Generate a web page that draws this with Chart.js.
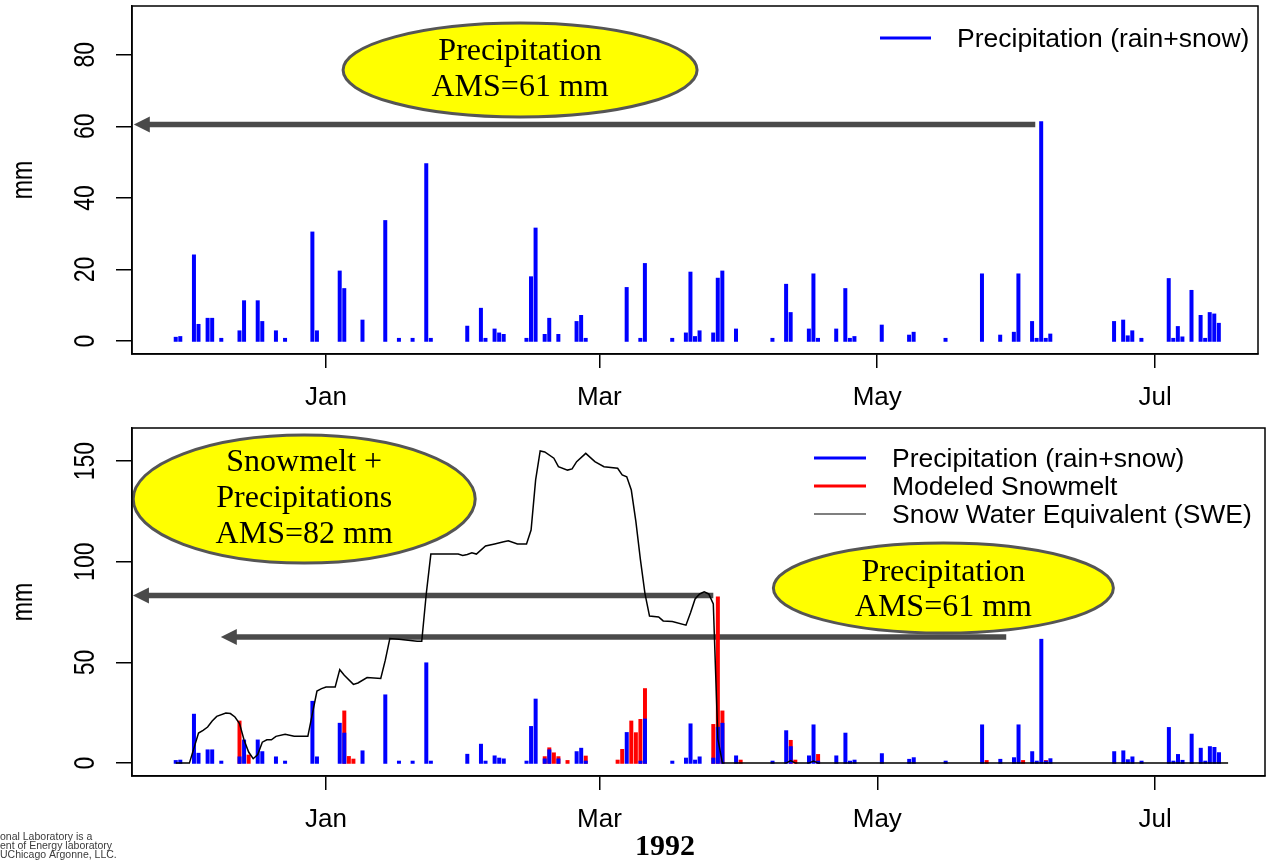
<!DOCTYPE html>
<html>
<head>
<meta charset="utf-8">
<title>Precipitation, snowmelt and SWE 1991-1992</title>
<script src="https://cdn.jsdelivr.net/npm/chart.js@4/dist/chart.umd.min.js"></script>
<style>
  html, body { margin: 0; padding: 0; background: #fff; }
  #wrap { position: relative; width: 1268px; height: 860px; overflow: hidden; }
  #topChart { position: absolute; left: 0; top: 0; }
  #bottomChart { position: absolute; left: 0; top: 420px; }
</style>
</head>
<body>
<div id="wrap">
  <canvas id="topChart" width="1268" height="420"></canvas>
  <canvas id="bottomChart" width="1268" height="440"></canvas>
</div>
<script>
// days counted from 1 Jan 1992 (negative = Nov/Dec 1991)
const precipDays = [-33, -32, -29, -28, -26, -25, -23, -19, -18, -15, -14, -11, -9, -3, -2, 3, 4, 8, 13, 16, 19, 22, 23,
  31, 34, 35, 37, 38, 39, 44, 45, 46, 48, 49, 51, 55, 56, 57, 66, 69, 70, 76, 79, 80, 81, 82, 85, 86, 87, 90,
  98, 101, 102, 106, 107, 108, 112, 114, 115, 116, 122, 128, 129, 136, 144, 148, 151, 152, 155, 156, 157, 158, 159,
  173, 175, 176, 177, 179, 185, 186, 187, 188, 190, 192, 193, 194, 195, 196];
const precipMM = [0.8, 1.0, 23.8, 4.4, 6.1, 6.1, 0.5, 2.6, 11, 11, 5.2, 2.6, 0.5, 30.2, 2.6, 19.3, 14.4, 5.6, 33.4, 0.5, 0.5, 49.3, 0.5,
  3.9, 8.9, 0.5, 3.1, 2.0, 1.6, 0.5, 17.7, 31.3, 1.6, 6.1, 1.6, 5.2, 6.9, 0.5, 14.7, 0.5, 21.4, 0.5, 2.0, 19, 1.0, 2.6, 2.0, 17.3, 19.3, 3.1,
  0.5, 15.6, 7.7, 3.1, 18.5, 0.5, 3.1, 14.4, 0.5, 1.0, 4.2, 1.4, 2.2, 0.5, 18.5, 1.4, 2.2, 18.5, 5.2, 0.5, 61, 0.5, 1.7,
  5.2, 5.6, 1.2, 2.6, 0.5, 17.2, 0.5, 3.8, 0.9, 13.9, 6.9, 0.5, 7.7, 7.3, 4.7];

const meltDays = [-19, -17, 4, 5, 6, 48, 49, 50, 51, 53, 57, 64, 65, 67, 68, 69, 70, 85, 86, 87, 91, 102, 103, 108, 145, 153, 158];
const meltMM = [20.4, 3.5, 25.4, 2.8, 1.5, 2.7, 7.1, 4.6, 2.7, 0.8, 3.0, 1.0, 6.3, 20.4, 14.6, 21.2, 36.5, 18.7, 82.0, 25.4, 1.0, 10.8, 1.0, 3.8, 0.8, 0.8, 0.8];

const sweDays = [-33, -30, -28, -27, -26, -25, -24, -22, -21, -20, -19, -18, -17, -16, -15, -14, -13, -12, -11, -9,
  -7, -4, -3, -2, -1, 0, 2, 3, 4, 6, 7, 9, 12, 13, 14, 16, 20, 21, 22, 23,
  29, 30, 31, 32, 33, 35, 37, 39, 40, 42, 44, 45, 46, 47, 48, 50, 51, 53, 54, 55,
  57, 59, 61, 64, 65, 66, 67, 68, 69, 70, 71, 73, 74, 76, 79, 80, 81, 82, 83, 84,
  85, 86, 87, 101, 102, 103, 106, 107, 108, 198];
const sweMM = [0, 0, 14.9, 16.3, 17.9, 20.9, 23.2, 24.9, 24.6, 22.9, 19.6, 11.5, 5.5, 2.2, 4.3, 10.4, 11.6, 11.6, 13.3, 14.3,
  13.3, 13.3, 24.6, 35.8, 37.0, 37.8, 37.8, 46.4, 43.6, 39.1, 39.8, 42.5, 42.0, 51.1, 61.9, 61.5, 60.5, 60.5, 84.2, 103.8,
  103.8, 103.1, 103.6, 104.4, 103.8, 107.8, 108.8, 109.9, 110.4, 108.8, 108.8, 115.7, 140.6, 155.0, 154.5, 151.4, 147.2, 145.5, 146.1, 149.7,
  153.8, 149.7, 147.2, 146.4, 143.1, 142.2, 135.6, 120.0, 101.0, 84.2, 73.0, 72.6, 70.6, 70.3, 68.5, 74.7, 81.5, 84.0, 85.0, 84.0,
  79.0, 12.0, 0, 0, 1.2, 0, 0, 1.0, 0, 0];

const tickDays = [0, 60, 121, 182];
const tickLabels = ['Jan', 'Mar', 'May', 'Jul'];
const yTicksTop = [0, 20, 40, 60, 80];
const yTicksBottom = [0, 50, 100, 150];

const SANS = '"Liberation Sans", Arial, sans-serif';
const SERIF = '"Liberation Serif", "Times New Roman", serif';

const toXY = (days, vals) => days.map((d, i) => ({x: d, y: vals[i]}));

function xAxis(max, height) {
    return {
        type: 'linear', min: -42.6, max: max, offset: false,
        afterBuildTicks: s => { s.ticks = tickDays.map(v => ({value: v})); },
        afterFit: s => { s.height = height; },
        ticks: {
            callback: v => tickLabels[tickDays.indexOf(v)],
            font: {family: SANS, size: 26}, color: '#000', padding: 14,
            maxRotation: 0, autoSkip: false
        },
        grid: {drawOnChartArea: false, drawTicks: true, tickLength: 14, color: '#000', lineWidth: 1.5, offset: false},
        border: {display: true, color: '#000', width: 1.5}
    };
}

function yAxis(min, max, ticks) {
    return {
        type: 'linear', min: min, max: max,
        afterBuildTicks: s => { s.ticks = ticks.map(v => ({value: v})); },
        afterFit: s => { s.width = 132; },
        ticks: {display: false},
        grid: {drawOnChartArea: false, drawTicks: true, tickLength: 16, color: '#000', lineWidth: 1.5},
        border: {display: true, color: '#000', width: 1.5}
    };
}

// R-like decorations: box, rotated y labels, legend, arrows, ellipses
function makeDecor(cfg) {
    return {
        id: 'decor',
        beforeDatasetsDraw(chart) {
            const {ctx, scales: {x, y}} = chart;
            cfg.arrows.forEach(a => {
                const py = y.getPixelForValue(a.level);
                const x1 = x.getPixelForValue(a.from);
                const x2 = x.getPixelForValue(a.to);
                ctx.save();
                ctx.strokeStyle = '#4a4a4a';
                ctx.fillStyle = '#4a4a4a';
                ctx.lineWidth = 5.5;
                ctx.beginPath();
                ctx.moveTo(x1, py);
                ctx.lineTo(x2 + 12, py);
                ctx.stroke();
                ctx.beginPath();
                ctx.moveTo(x2, py);
                ctx.lineTo(x2 + 16, py - 8);
                ctx.lineTo(x2 + 16, py + 8);
                ctx.closePath();
                ctx.fill();
                ctx.restore();
            });
        },
        afterDatasetsDraw(chart) {
            const {ctx, scales: {x, y}} = chart;
            cfg.ellipses.forEach(e => {
                const cx = x.getPixelForValue(e.day);
                const cy = y.getPixelForValue(e.mm);
                ctx.save();
                ctx.beginPath();
                ctx.ellipse(cx, cy, e.rx, e.ry, 0, 0, Math.PI * 2);
                ctx.fillStyle = '#ffff00';
                ctx.fill();
                ctx.lineWidth = 3;
                ctx.strokeStyle = '#555555';
                ctx.stroke();
                ctx.fillStyle = '#000';
                ctx.font = '32px ' + SERIF;
                ctx.textAlign = 'center';
                ctx.textBaseline = 'middle';
                const n = e.lines.length;
                e.lines.forEach((t, i) => {
                    ctx.fillText(t, cx, cy + (i - (n - 1) / 2) * e.gap + e.shift);
                });
                ctx.restore();
            });
            // legend
            const lg = cfg.legend;
            ctx.save();
            ctx.font = '26.5px ' + SANS;
            ctx.textAlign = 'left';
            ctx.textBaseline = 'middle';
            chart.data.datasets.forEach((ds, i) => {
                const ly = lg.y + i * lg.rowH;
                const isLine = ds.type === 'line';
                ctx.strokeStyle = isLine ? ds.borderColor : ds.backgroundColor;
                ctx.lineWidth = isLine ? 1.2 : 3;
                ctx.beginPath();
                ctx.moveTo(lg.x, ly);
                ctx.lineTo(lg.x + lg.len, ly);
                ctx.stroke();
                ctx.fillStyle = '#000';
                ctx.fillText(ds.label, lg.textX, ly + 2);
            });
            ctx.restore();
        },
        afterDraw(chart) {
            const {ctx, chartArea: a, scales: {y}} = chart;
            ctx.save();
            ctx.strokeStyle = '#000';
            ctx.lineWidth = 1.5;
            ctx.strokeRect(a.left, a.top, a.right - a.left, a.bottom - a.top);
            ctx.fillStyle = '#000';
            ctx.textAlign = 'center';
            ctx.textBaseline = 'middle';
            ctx.font = '23px ' + SANS;
            y.ticks.forEach(t => {
                ctx.save();
                ctx.translate(86, y.getPixelForValue(t.value));
                ctx.scale(1.3, 1);
                ctx.rotate(-Math.PI / 2);
                ctx.fillText(String(t.value), 0, 0);
                ctx.restore();
            });
            ctx.save();
            ctx.translate(24, (a.top + a.bottom) / 2);
            ctx.scale(1.3, 1);
            ctx.rotate(-Math.PI / 2);
            ctx.fillText('mm', 0, 0);
            ctx.restore();
            (cfg.texts || []).forEach(t => {
                ctx.font = t.font;
                ctx.fillStyle = t.color;
                ctx.textAlign = t.align;
                ctx.fillText(t.text, t.x, t.y);
            });
            ctx.restore();
        }
    };
}

const barStyle = {type: 'bar', barThickness: 1.2, inflateAmount: 1.4, grouped: false, borderWidth: 0};

try {
    new Chart(document.getElementById('topChart'), {
        type: 'bar',
        data: {
            datasets: [Object.assign({}, barStyle, {
                label: 'Precipitation (rain+snow)',
                data: toXY(precipDays, precipMM),
                backgroundColor: '#0000ff'
            })]
        },
        options: {
            responsive: false, animation: false, events: [],
            layout: {padding: {top: 6, right: 10, left: 0, bottom: 0}},
            plugins: {legend: {display: false}, tooltip: {enabled: false}},
            scales: {x: xAxis(204.6, 66), y: yAxis(-3.6, 93.6, yTicksTop)}
        },
        plugins: [makeDecor({
            arrows: [{level: 60.5, from: 155.7, to: -42.2}],
            ellipses: [{day: 42.6, mm: 75.7, rx: 177, ry: 47, gap: 36, shift: 0, lines: ['Precipitation', 'AMS=61 mm']}],
            legend: {x: 880, y: 38, len: 51, textX: 957, rowH: 28}
        })]
    });

    new Chart(document.getElementById('bottomChart'), {
        type: 'bar',
        data: {
            datasets: [
                Object.assign({}, barStyle, {
                    label: 'Precipitation (rain+snow)',
                    data: toXY(precipDays, precipMM),
                    backgroundColor: '#0000ff', order: 1
                }),
                Object.assign({}, barStyle, {
                    label: 'Modeled Snowmelt',
                    data: toXY(meltDays, meltMM),
                    backgroundColor: '#ff0000', order: 2
                }),
                {
                    type: 'line', label: 'Snow Water Equivalent (SWE)',
                    data: toXY(sweDays, sweMM),
                    borderColor: '#000000', borderWidth: 1.5, pointRadius: 0, tension: 0, order: 0
                }
            ]
        },
        options: {
            responsive: false, animation: false, events: [],
            layout: {padding: {top: 8, right: 3, left: 0, bottom: 0}},
            plugins: {legend: {display: false}, tooltip: {enabled: false}},
            scales: {x: xAxis(206.1, 84), y: yAxis(-6.4, 166.4, yTicksBottom)}
        },
        plugins: [makeDecor({
            arrows: [
                {level: 83.2, from: 85.0, to: -42.4},
                {level: 62.6, from: 149.3, to: -23.1}
            ],
            ellipses: [
                {day: -4.8, mm: 131.1, rx: 171, ry: 64, gap: 36, shift: 0, lines: ['Snowmelt +', 'Precipitations', 'AMS=82 mm']},
                {day: 135.5, mm: 86.9, rx: 170, ry: 45, gap: 35, shift: 1.5, lines: ['Precipitation', 'AMS=61 mm']}
            ],
            legend: {x: 814, y: 38, len: 52, textX: 892, rowH: 28},
            texts: [
                {text: '1992', x: 665, y: 427, font: 'bold 30px ' + SERIF, color: '#000', align: 'center'},
                {text: 'onal Laboratory is a', x: 0, y: 417, font: '10.5px ' + SANS, color: '#3a3a3a', align: 'left'},
                {text: 'ent of Energy laboratory', x: 0, y: 426, font: '10.5px ' + SANS, color: '#3a3a3a', align: 'left'},
                {text: 'UChicago Argonne, LLC.', x: 0, y: 435, font: '10.5px ' + SANS, color: '#3a3a3a', align: 'left'}
            ]
        })]
    });
} catch (error) {
    console.error('Error creating charts:', error);
}
</script>
</body>
</html>
